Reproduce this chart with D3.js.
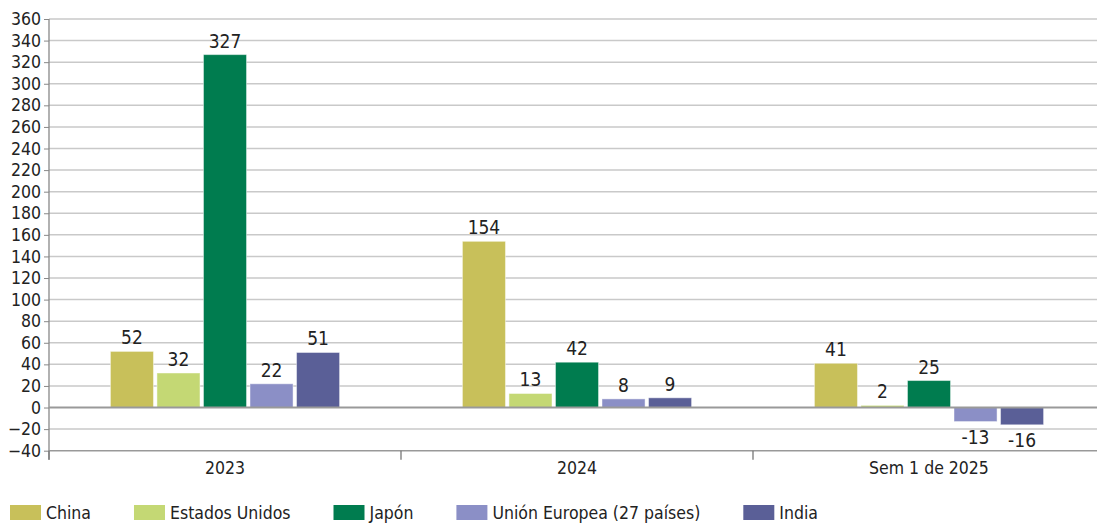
<!DOCTYPE html>
<html><head><meta charset="utf-8">
<script src="https://cdn.jsdelivr.net/npm/d3@7"></script>
<style>
body{margin:0;background:#fff;}
svg text{font-family:"Liberation Sans Narrow","DejaVu Sans Condensed","Roboto Condensed",sans-serif;fill:#222;}
</style></head>
<body><svg id="c" width="1097" height="523"></svg>
<script>
const categories = ["2023", "2024", "Sem 1 de 2025"];
const series = ["China", "Estados Unidos", "Japón", "Unión Europea (27 países)", "India"];
const china = [52, 154, 41];
const estadosUnidos = [32, 13, 2];
const japon = [327, 42, 25];
const unionEuropea = [22, 8, -13];
const india = [51, 9, -16];
const yTicks = [-40,-20,0,20,40,60,80,100,120,140,160,180,200,220,240,260,280,300,320,340,360];
const colors = ["#c8c05a", "#c4d874", "#007c4f", "#8b8fc6", "#5a5f97"];

(function(){
const values = [china, estadosUnidos, japon, unionEuropea, india];
const svg = d3.select("#c");
const mLeft = 49, mTop = 19, mBottom = 450.7, mRight = 1105;

const y = d3.scaleLinear().domain([-40, 360]).range([mBottom, mTop]);
const x0 = d3.scaleBand().domain(categories).range([mLeft, mRight]).padding(0);
const x1 = d3.scaleBand().domain(series).range([0, x0.bandwidth()]).paddingInner(0.075).paddingOuter(1.32);

svg.append("g").selectAll("line").data(yTicks.filter(t => t !== 0 && t !== -40)).join("line")
  .attr("x1", mLeft).attr("x2", 1097).attr("y1", d => y(d)).attr("y2", d => y(d))
  .attr("stroke", "#c9c9c9").attr("stroke-width", 1.5);

const yAxis = svg.append("g").attr("transform", `translate(${mLeft},0)`)
  .call(d3.axisLeft(y).tickValues(yTicks).tickSize(5).tickPadding(3).tickFormat(d3.format("d")));
yAxis.select(".domain").remove();
yAxis.selectAll(".tick line").attr("stroke", "#888");
yAxis.selectAll(".tick text").attr("font-size", 17.5).attr("fill", "#222")
  .style("font-family", '"Liberation Sans Narrow","DejaVu Sans Condensed",sans-serif');
svg.append("line").attr("x1", mLeft).attr("x2", mLeft).attr("y1", mTop).attr("y2", mBottom + 9)
  .attr("stroke", "#888").attr("stroke-width", 1.3);

svg.append("line").attr("x1", mLeft).attr("x2", 1097).attr("y1", mBottom).attr("y2", mBottom)
  .attr("stroke", "#999").attr("stroke-width", 1.5);
svg.append("g").selectAll("line").data(categories).join("line")
  .attr("x1", d => x0(d)).attr("x2", d => x0(d)).attr("y1", mBottom).attr("y2", mBottom + 9)
  .attr("stroke", "#777").attr("stroke-width", 1.3);
svg.append("g").selectAll("text").data(categories).join("text")
  .attr("x", d => x0(d) + x0.bandwidth() / 2).attr("y", mBottom + 23)
  .attr("text-anchor", "middle").attr("font-size", 17.5).text(d => d);

const flat = [];
categories.forEach((c, i) => series.forEach((s, j) => flat.push({c, s, j, v: values[j][i]})));
svg.append("g").selectAll("rect").data(flat).join("rect")
  .attr("x", d => x0(d.c) + x1(d.s)).attr("width", x1.bandwidth())
  .attr("y", d => y(Math.max(0, d.v))).attr("height", d => Math.abs(y(d.v) - y(0)))
  .attr("fill", d => colors[d.j])
  .attr("stroke", "#ffffff").attr("stroke-opacity", 0.45).attr("stroke-width", 1);

svg.append("line").attr("x1", mLeft).attr("x2", 1097).attr("y1", y(0)).attr("y2", y(0))
  .attr("stroke", "#999").attr("stroke-width", 2);

svg.append("g").selectAll("text").data(flat).join("text")
  .attr("x", d => x0(d.c) + x1(d.s) + x1.bandwidth() / 2)
  .attr("y", d => d.v >= 0 ? y(d.v) - 7 : y(d.v) + 22)
  .attr("text-anchor", "middle").attr("font-size", 19).text(d => d.v);

let lx = 10;
series.forEach((s, j) => {
  svg.append("rect").attr("x", lx).attr("y", 505).attr("width", 31).attr("height", 15).attr("fill", colors[j]);
  const t = svg.append("text").attr("x", lx + 36).attr("y", 519).attr("font-size", 17.5).text(s);
  lx += 36 + t.node().getComputedTextLength() + 43;
});
})();
</script></body></html>
